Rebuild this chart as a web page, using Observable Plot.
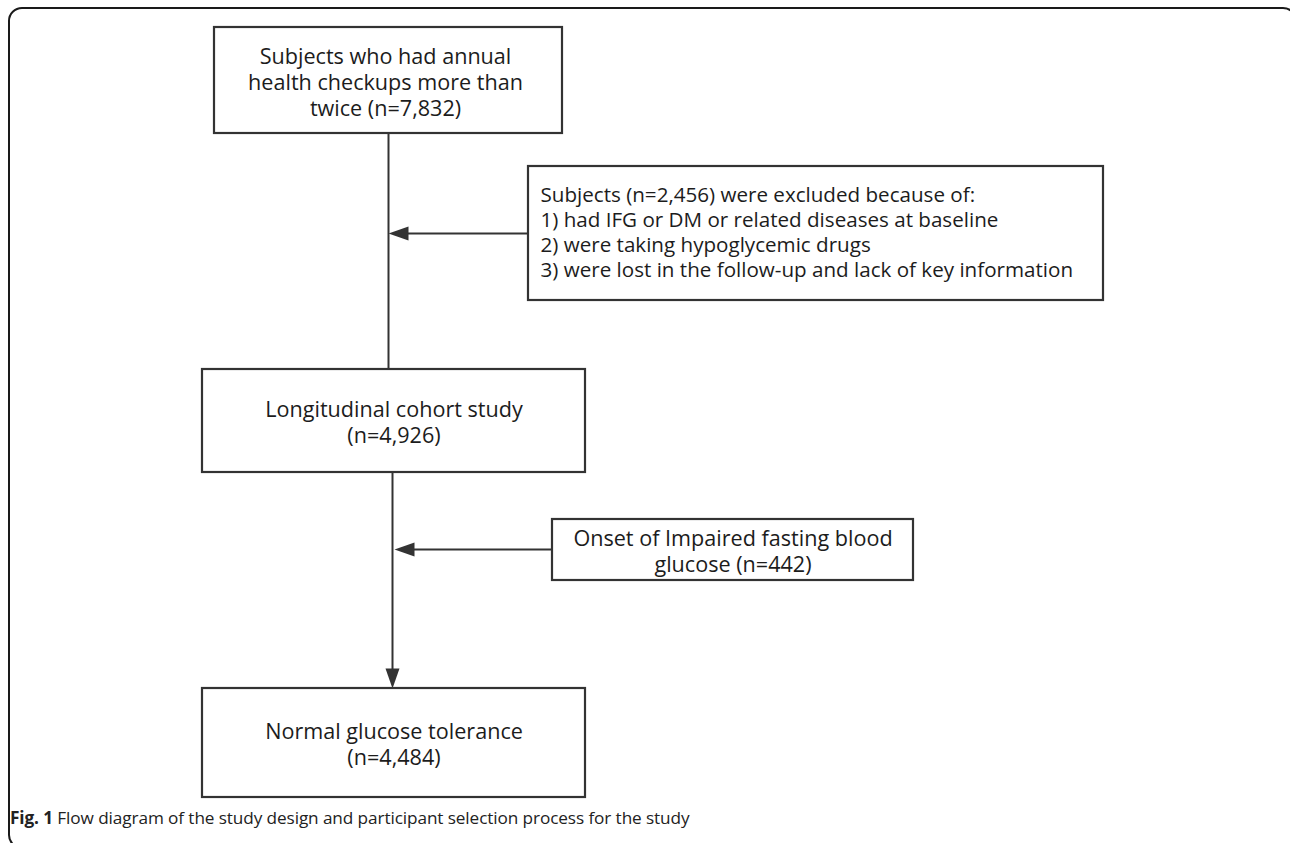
<!DOCTYPE html>
<html><head><meta charset="utf-8">
<script src="https://cdn.jsdelivr.net/npm/d3@7"></script>
<script src="https://cdn.jsdelivr.net/npm/@observablehq/plot@0.6"></script>
<style>
body{margin:0;background:#fff;font-family:"Open Sans",sans-serif;}
#wrap{position:relative;width:1290px;height:843px;overflow:hidden;background:#fff;}
#frame{position:absolute;left:8px;top:7px;width:1289px;height:842px;border:2px solid #1a1a1a;border-radius:14px;box-sizing:border-box;}
#chart{position:absolute;left:0;top:0;}
#caption{position:absolute;left:10px;top:806px;font-size:17.2px;color:#222;white-space:nowrap;letter-spacing:-0.1px;}
#caption b{font-weight:700;}
</style></head><body>
<div id="wrap"><div id="frame"></div><div id="chart"></div><div id="caption"></div></div>
<script>
// ---- data ----
const stageLabels = ["Subjects who had annual\nhealth checkups more than\ntwice", "Longitudinal cohort study", "Normal glucose tolerance"];
const stageCounts = [7832, 4926, 4484];
const exclusionCounts = [2456, 442];
const exclusionReasons = ["had IFG or DM or related diseases at baseline", "were taking hypoglycemic drugs", "were lost in the follow-up and lack of key information"];
const onsetLabel = "Onset of Impaired fasting blood\nglucose";
const captionLabel = "Fig. 1";
const captionText = "Flow diagram of the study design and participant selection process for the study";

// ---- layout (pixel space) ----
const W = 1290, H = 805;
const layout = {
  stage: [
    {x1: 214, x2: 562, y1: 27, y2: 133},
    {x1: 202, x2: 585, y1: 369, y2: 472},
    {x1: 202, x2: 585, y1: 688, y2: 797}
  ],
  excl: [
    {x1: 528, x2: 1103, y1: 166, y2: 300, textX: 540},
    {x1: 552, x2: 913, y1: 519, y2: 580}
  ],
  spineX: [388, 392],
  arrowY: [233, 549],
  arrowTipX: [388, 394]
};

const fmt = d3.format(",");
const stageText = stageLabels.map((l, i) => i === 0 ? `${l} (n=${fmt(stageCounts[i])})` : `${l}\n(n=${fmt(stageCounts[i])})`);
const exclText = [
  [`Subjects (n=${fmt(exclusionCounts[0])}) were excluded because of:`, ...exclusionReasons.map((r, i) => `${i + 1}) ${r}`)].join("\n"),
  `${onsetLabel} (n=${exclusionCounts[1]})`
];

const boxes = [
  ...layout.stage.map((b, i) => ({...b, text: stageText[i], anchor: "middle", tx: (b.x1 + b.x2) / 2 - (i === 0 ? 3 : 0)})),
  {...layout.excl[0], text: exclText[0], anchor: "start", tx: layout.excl[0].textX},
  {...layout.excl[1], text: exclText[1], anchor: "middle", tx: (layout.excl[1].x1 + layout.excl[1].x2) / 2}
];
boxes.forEach(b => b.ty = (b.y1 + b.y2) / 2 + (b.anchor === "start" ? -2 : 1));

const links = [
  {x1: layout.spineX[0], y1: layout.stage[0].y2, x2: layout.spineX[0], y2: layout.stage[1].y1},
  {x1: layout.spineX[1], y1: layout.stage[1].y2, x2: layout.spineX[1], y2: layout.stage[2].y1 - 15},
  {x1: layout.excl[0].x1, y1: layout.arrowY[0], x2: layout.arrowTipX[0] + 15, y2: layout.arrowY[0]},
  {x1: layout.excl[1].x1, y1: layout.arrowY[1], x2: layout.arrowTipX[1] + 15, y2: layout.arrowY[1]}
];
const heads = [
  {x: layout.arrowTipX[0], y: layout.arrowY[0], rot: 90},
  {x: layout.arrowTipX[1], y: layout.arrowY[1], rot: 90},
  {x: layout.spineX[1], y: layout.stage[2].y1, rot: 0}
];
const headSymbol = {
  draw(ctx) { ctx.moveTo(0, 0); ctx.lineTo(-7, -20); ctx.lineTo(7, -20); ctx.closePath(); }
};

const plot = Plot.plot({
  width: W, height: H,
  margin: 0,
  x: {domain: [0, W], range: [0, W], axis: null},
  y: {domain: [0, H], range: [0, H], axis: null},
  style: {fontFamily: "'Open Sans', sans-serif", background: "transparent"},
  marks: [
    Plot.link(links, {x1: "x1", y1: "y1", x2: "x2", y2: "y2", stroke: "#333", strokeWidth: 2}),
    Plot.dot(heads, {x: "x", y: "y", rotate: "rot", symbol: headSymbol, fill: "#333", stroke: "none", r: 5}),
    Plot.rect(boxes, {x1: "x1", x2: "x2", y1: "y1", y2: "y2", fill: "white", stroke: "#333", strokeWidth: 2.2}),
    Plot.text(boxes.filter(b => b.anchor === "middle"), {x: "tx", y: "ty", text: "text", textAnchor: "middle", lineAnchor: "middle", fontSize: 21.6, lineHeight: 1.21, fill: "#1c1c1c"}),
    Plot.text(boxes.filter(b => b.anchor === "start"), {x: "tx", y: "ty", text: "text", textAnchor: "start", lineAnchor: "middle", fontSize: 20.6, lineHeight: 1.22, fill: "#1c1c1c"})
  ]
});
document.getElementById("chart").appendChild(plot);
document.getElementById("caption").innerHTML = `<b>${captionLabel}</b> ${captionText}`;
</script>
</body></html>
